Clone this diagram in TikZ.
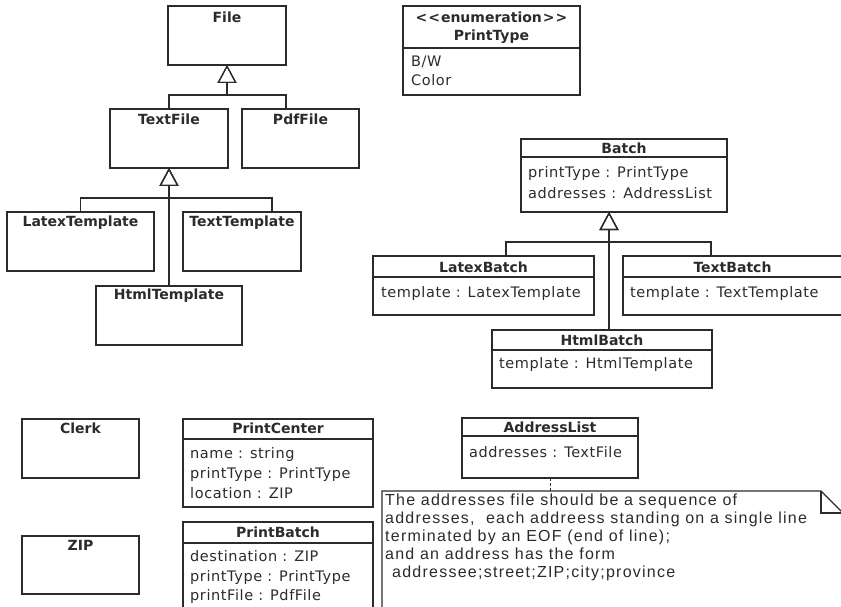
\documentclass[tikz,border=0pt]{standalone}
\usepackage{fontspec}
\setmainfont{DejaVu Sans}
\newfontfamily\attrfont[LetterSpace=4]{DejaVu Sans}
\newfontfamily\notefont[LetterSpace=7.8]{Liberation Sans}
\usetikzlibrary{arrows.meta,calc}

\definecolor{ink}{HTML}{2B2B2B}

\tikzset{
  cls/.style={draw=ink, line width=1.2pt, rectangle, inner sep=0pt, outer sep=0pt, anchor=north west},
  ttl/.style={font=\fontsize{14}{16}\selectfont\bfseries, text=ink, inner sep=0pt},
  attr/.style={font=\attrfont\fontsize{14.5}{17}\selectfont, text=ink, inner sep=0pt, anchor=base west},
  gen/.style={draw=ink, line width=1.2pt, -{Triangle[open, length=18pt, width=19pt, line width=1.2pt]}},
  sep/.style={draw=ink, line width=1.2pt},
  notetxt/.style={font=\notefont\fontsize{16}{18}\selectfont, text=ink, inner sep=0pt, anchor=base west},
  link/.style={draw=ink, line width=0.8pt, dash pattern=on 3pt off 2pt},
}

% box: name, x, y, width, height
\newcommand\umlbox[5]{\node[cls, minimum width=#4pt, minimum height=#5pt] (#1) at (#2,#3) {};}
% title: box name, vertical offset of the text centre, text
\newcommand\umltitle[3]{\node[ttl] (#1-t) at ([yshift=-#2pt]#1.north) {#3};}
% compartment line: box name, vertical offset
\newcommand\umlsep[2]{\draw[sep] ([yshift=-#2pt]#1.north west) -- ([yshift=-#2pt]#1.north east);}

\begin{document}
\begin{tikzpicture}[x=1pt, y=-1pt]
\useasboundingbox (0,0) rectangle (841,607);
\clip (0,0) rectangle (841,607);

% ---------------- file hierarchy ----------------
\umlbox{File}{168}{6}{118}{59}
\umltitle{File}{11}{File}
\umlbox{TextFile}{110}{109}{118}{59}
\umltitle{TextFile}{10}{TextFile}
\umlbox{PdfFile}{242}{109}{117}{59}
\umltitle{PdfFile}{10}{PdfFile}
\umlbox{LatexTemplate}{7}{212}{147}{59}
\umltitle{LatexTemplate}{11}{LatexTemplate}
\umlbox{TextTemplate}{183}{212}{118}{59}
\umltitle{TextTemplate}{11}{TextTemplate}
\umlbox{HtmlTemplate}{96}{286}{146}{59}
\umltitle{HtmlTemplate}{10}{HtmlTemplate}

\draw[gen] (TextFile.north) |- ($(File.south)+(0,30)$) -- (File.south);
\draw[gen] (File.east |- PdfFile.north) |- ($(File.south)+(0,30)$) -- (File.south);

\draw[gen] (LatexTemplate.north) |- ($(TextFile.south)+(0,30)$) -- (TextFile.south);
\draw[gen] ($(TextTemplate.north west)+(89,0)$) |- ($(TextFile.south)+(0,30)$) -- (TextFile.south);
\draw[gen] (HtmlTemplate.north) -- (TextFile.south);

% ---------------- enumeration ----------------
\umlbox{PrintType}{403}{6}{177}{89}
\node[ttl] (PrintType-s) at ([yshift=-11pt]PrintType.north) {<\kern1pt<\kern1pt enumeration\kern1pt>\kern1pt>};
\umltitle{PrintType}{31}{PrintType}
\umlsep{PrintType}{42}
\node[attr] (PrintType-a1) at ([xshift=8pt, yshift=-61pt]PrintType.north west) {B/W};
\node[attr] (PrintType-a2) at ([xshift=8pt, yshift=-80pt]PrintType.north west) {Color};

% ---------------- batch hierarchy ----------------
\umlbox{Batch}{521}{139}{206}{73}
\umltitle{Batch}{9}{Batch}
\umlsep{Batch}{18}
\node[attr] (Batch-a1) at ([xshift=7pt, yshift=-39pt]Batch.north west) {printType : PrintType};
\node[attr] (Batch-a2) at ([xshift=7pt, yshift=-59pt]Batch.north west) {addresses : AddressList};

\umlbox{LatexBatch}{373}{256}{221}{59}
\umltitle{LatexBatch}{11}{LatexBatch}
\umlsep{LatexBatch}{21}
\node[attr] (LatexBatch-a1) at ([xshift=8pt, yshift=-41pt]LatexBatch.north west) {template : LatexTemplate};

\umlbox{TextBatch}{623}{256}{219}{59}
\umltitle{TextBatch}{11}{TextBatch}
\umlsep{TextBatch}{21}
\node[attr] (TextBatch-a1) at ([xshift=7pt, yshift=-41pt]TextBatch.north west) {template : TextTemplate};

\umlbox{HtmlBatch}{492}{330}{220}{58}
\umltitle{HtmlBatch}{10}{HtmlBatch}
\umlsep{HtmlBatch}{20}
\node[attr] (HtmlBatch-a1) at ([xshift=7pt, yshift=-38pt]HtmlBatch.north west) {template : HtmlTemplate};

\coordinate (BatchTip) at ($(Batch.south west)+(88,0)$);
\draw[gen] ($(LatexBatch.north west)+(133,0)$) |- ($(BatchTip)+(0,30)$) -- (BatchTip);
\draw[gen] ($(TextBatch.north west)+(88,0)$) |- ($(BatchTip)+(0,30)$) -- (BatchTip);
\draw[gen] ($(HtmlBatch.north west)+(117,0)$) -- (BatchTip);

% ---------------- lower classes ----------------
\umlbox{Clerk}{22}{419}{117}{59}
\umltitle{Clerk}{9}{Clerk}
\umlbox{ZIP}{22}{536}{117}{58}
\umltitle{ZIP}{9}{ZIP}

\umlbox{PrintCenter}{183}{419}{190}{88}
\umltitle{PrintCenter}{9}{PrintCenter}
\umlsep{PrintCenter}{20}
\node[attr] (PrintCenter-a1) at ([xshift=7pt, yshift=-39pt]PrintCenter.north west) {name : string};
\node[attr] (PrintCenter-a2) at ([xshift=7pt, yshift=-59pt]PrintCenter.north west) {printType : PrintType};
\node[attr] (PrintCenter-a3) at ([xshift=7pt, yshift=-79pt]PrintCenter.north west) {location : ZIP};

\umlbox{PrintBatch}{183}{522}{190}{100}
\umltitle{PrintBatch}{10}{PrintBatch}
\umlsep{PrintBatch}{21}
\node[attr] (PrintBatch-a1) at ([xshift=7pt, yshift=-39pt]PrintBatch.north west) {destination : ZIP};
\node[attr] (PrintBatch-a2) at ([xshift=7pt, yshift=-59pt]PrintBatch.north west) {printType : PrintType};
\node[attr] (PrintBatch-a3) at ([xshift=7pt, yshift=-78pt]PrintBatch.north west) {printFile : PdfFile};

\umlbox{AddressList}{462}{418}{176}{60}
\umltitle{AddressList}{9}{AddressList}
\umlsep{AddressList}{18}
\node[attr] (AddressList-a1) at ([xshift=7pt, yshift=-39pt]AddressList.north west) {addresses : TextFile};

% ---------------- note ----------------
\draw[draw=ink, line width=1.2pt] (382,620) -- (382,491) -- (821,491) -- (845,515) -- (845,620);
\draw[draw=ink, line width=1.2pt] (821,491) -- (821,513) -- (843,513);
\coordinate (NoteTop) at (AddressList.south |- 0,491);
\draw[link] (AddressList.south) -- (NoteTop);

\node[notetxt] (note-l1) at (385,505) {The addresses file should be a sequence of};
\node[notetxt] (note-l2) at (385,523) {addresses,\ \ each addreess standing on a single line};
\node[notetxt] (note-l3) at (385,541) {terminated by an EOF (end of line);};
\node[notetxt] (note-l4) at (385,559) {and an address has the form};
\node[notetxt] (note-l5) at (392,577) {addressee;street;ZIP;city;province};

\end{tikzpicture}
\end{document}
